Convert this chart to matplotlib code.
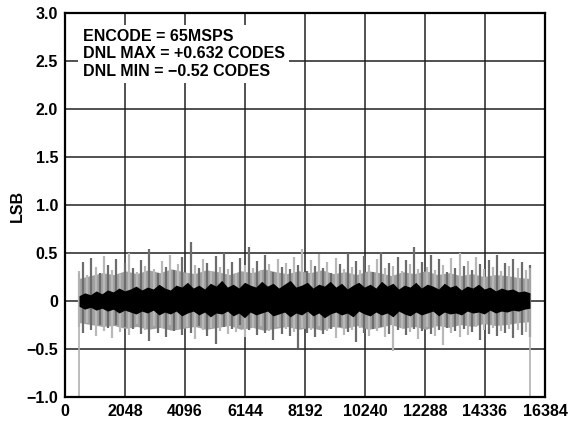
import numpy as np
import matplotlib.pyplot as plt

# code range covered by the measurement
first_code = 480
last_code = 15870

# gray spike envelope (LSB) left to right
spike_hi = [0.32, 0.41, 0.28, 0.45, 0.36, 0.30, 0.47, 0.38, 0.33, 0.44,
            0.29, 0.40, 0.50, 0.35, 0.31, 0.43, 0.37, 0.55, 0.34, 0.30,
            0.42, 0.36, 0.48, 0.33, 0.39, 0.46, 0.30, 0.62, 0.38, 0.35,
            0.44, 0.40, 0.32, 0.47, 0.36, 0.51, 0.34, 0.41, 0.30, 0.45,
            0.38, 0.57, 0.35, 0.42, 0.33, 0.48, 0.39, 0.31, 0.44, 0.36,
            0.40, 0.34, 0.46, 0.38, 0.55, 0.32, 0.43, 0.37, 0.49, 0.35,
            0.41, 0.30, 0.45, 0.39, 0.34, 0.50, 0.36, 0.42, 0.33, 0.47,
            0.38, 0.31, 0.44, 0.52, 0.35, 0.40, 0.37, 0.46, 0.32, 0.43,
            0.39, 0.57, 0.34, 0.41, 0.36, 0.48, 0.33, 0.44, 0.38, 0.31,
            0.45, 0.35, 0.50, 0.37, 0.42, 0.33, 0.46, 0.39, 0.34, 0.43,
            0.36, 0.48, 0.32, 0.40, 0.37, 0.44, 0.35, 0.41, 0.33, 0.38]
spike_lo = [-0.27, -0.33, -0.22, -0.30, -0.36, -0.25, -0.31, -0.28, -0.38, -0.24,
            -0.32, -0.27, -0.35, -0.29, -0.23, -0.34, -0.30, -0.41, -0.26, -0.33,
            -0.28, -0.37, -0.25, -0.31, -0.29, -0.35, -0.27, -0.33, -0.39, -0.26,
            -0.30, -0.36, -0.28, -0.44, -0.31, -0.27, -0.34, -0.29, -0.32, -0.25,
            -0.37, -0.30, -0.28, -0.35, -0.26, -0.33, -0.31, -0.40, -0.27, -0.34,
            -0.29, -0.36, -0.32, -0.48, -0.28, -0.33, -0.30, -0.37, -0.26, -0.34,
            -0.31, -0.29, -0.38, -0.27, -0.35, -0.32, -0.30, -0.42, -0.28, -0.33,
            -0.36, -0.29, -0.31, -0.27, -0.37, -0.34, -0.52, -0.30, -0.28, -0.35,
            -0.32, -0.29, -0.39, -0.31, -0.27, -0.34, -0.36, -0.30, -0.45, -0.28,
            -0.33, -0.31, -0.37, -0.29, -0.35, -0.32, -0.27, -0.40, -0.30, -0.34,
            -0.28, -0.36, -0.31, -0.33, -0.29, -0.38, -0.30, -0.35, -0.32, -0.37]

# lighter gray band where the trace is dense
band_hi = [0.24, 0.27, 0.30, 0.28, 0.32, 0.29, 0.33, 0.30, 0.34, 0.31,
           0.29, 0.33, 0.31, 0.28, 0.32, 0.30, 0.34, 0.31, 0.29, 0.32,
           0.30, 0.33, 0.29, 0.31, 0.28, 0.32, 0.30, 0.27, 0.31, 0.29,
           0.32, 0.28, 0.30, 0.27, 0.29, 0.26, 0.28, 0.27, 0.25, 0.24]
band_lo = [-0.22, -0.24, -0.26, -0.25, -0.28, -0.26, -0.29, -0.27, -0.30, -0.28,
           -0.26, -0.29, -0.27, -0.25, -0.29, -0.27, -0.30, -0.28, -0.26, -0.29,
           -0.27, -0.30, -0.26, -0.28, -0.25, -0.29, -0.27, -0.24, -0.28, -0.26,
           -0.29, -0.25, -0.27, -0.24, -0.26, -0.23, -0.25, -0.24, -0.22, -0.21]

# dense black core of the trace
core_hi = [0.06, 0.09, 0.07, 0.11, 0.08, 0.12, 0.10, 0.14, 0.11, 0.13,
           0.16, 0.12, 0.15, 0.13, 0.18, 0.14, 0.12, 0.17, 0.15, 0.20,
           0.14, 0.17, 0.13, 0.19, 0.16, 0.22, 0.15, 0.18, 0.14, 0.20,
           0.17, 0.15, 0.21, 0.16, 0.19, 0.14, 0.18, 0.22, 0.15, 0.17,
           0.20, 0.14, 0.18, 0.16, 0.21, 0.15, 0.19, 0.13, 0.17, 0.20,
           0.15, 0.18, 0.14, 0.21, 0.16, 0.19, 0.13, 0.17, 0.15, 0.20,
           0.14, 0.18, 0.16, 0.13, 0.19, 0.15, 0.17, 0.12, 0.16, 0.14,
           0.18, 0.13, 0.15, 0.11, 0.14, 0.12, 0.13, 0.10, 0.11, 0.09]
core_lo = [-0.05, -0.08, -0.06, -0.09, -0.07, -0.10, -0.08, -0.12, -0.09, -0.11,
           -0.13, -0.10, -0.12, -0.09, -0.14, -0.11, -0.13, -0.10, -0.15, -0.12,
           -0.10, -0.14, -0.11, -0.16, -0.12, -0.13, -0.10, -0.15, -0.12, -0.17,
           -0.11, -0.14, -0.12, -0.10, -0.15, -0.13, -0.11, -0.16, -0.12, -0.14,
           -0.10, -0.15, -0.12, -0.17, -0.13, -0.11, -0.14, -0.12, -0.16, -0.10,
           -0.13, -0.15, -0.11, -0.14, -0.12, -0.16, -0.10, -0.13, -0.15, -0.11,
           -0.14, -0.12, -0.10, -0.15, -0.11, -0.13, -0.12, -0.14, -0.10, -0.12,
           -0.11, -0.13, -0.09, -0.12, -0.10, -0.11, -0.09, -0.10, -0.08, -0.07]

# the two end codes drop to -1 LSB
edge_codes = [first_code, last_code]
edge_hi = [0.30, 0.35]
edge_lo = [-1.0, -1.0]

x_ticks = [0, 2048, 4096, 6144, 8192, 10240, 12288, 14336, 16384]
y_ticks = [-1.0, -0.5, 0, 0.5, 1.0, 1.5, 2.0, 2.5, 3.0]
y_labels = ["\u22121.0", "\u22120.5", "0", "0.5", "1.0", "1.5", "2.0", "2.5", "3.0"]

note = "ENCODE = 65MSPS\nDNL MAX = +0.632 CODES\nDNL MIN = \u22120.52 CODES"

plt.rcParams['font.family'] = ['Liberation Sans', 'DejaVu Sans']
plt.rcParams['font.weight'] = 'bold'

fig = plt.figure(figsize=(5.68, 4.28), dpi=100)
ax = fig.add_axes([0.1144, 0.0713, 0.8451, 0.8972])

band_x = np.linspace(first_code, last_code, len(band_hi))
ax.fill_between(band_x, band_lo, band_hi, color='#a0a0a0', linewidth=0, zorder=2)

spike_x = np.linspace(first_code, last_code, len(spike_hi))
colors = ['#b8b8b8', '#6c6c6c'] * (len(spike_hi) // 2)
ax.vlines(spike_x, spike_lo, spike_hi, colors=colors, linewidth=1.6, zorder=2.5)
ax.vlines(edge_codes, edge_lo, edge_hi, colors='#b0b0b0', linewidth=1.2, zorder=2.5)

core_x = np.linspace(first_code, last_code, len(core_hi))
ax.fill_between(core_x, core_lo, core_hi, color='black', linewidth=0, zorder=3)

ax.set_xlim(0, 16384)
ax.set_ylim(-1.0, 3.0)
ax.set_xticks(x_ticks)
ax.set_yticks(y_ticks)
ax.set_yticklabels(y_labels)
ax.tick_params(length=0, labelsize=11.5, pad=5)
ax.grid(True, color='#222222', linewidth=1.1, zorder=1)
ax.set_axisbelow(True)
for s in ax.spines.values():
    s.set_linewidth(1.6)
ax.set_ylabel("LSB", fontsize=11.5, fontweight='bold', labelpad=1)

ax.text(600, 2.84, note, fontsize=11.5, fontweight='bold', va='top', ha='left',
        linespacing=1.22, zorder=4,
        bbox=dict(facecolor='white', edgecolor='none', pad=3))

fig.savefig("out.png", dpi=100)
